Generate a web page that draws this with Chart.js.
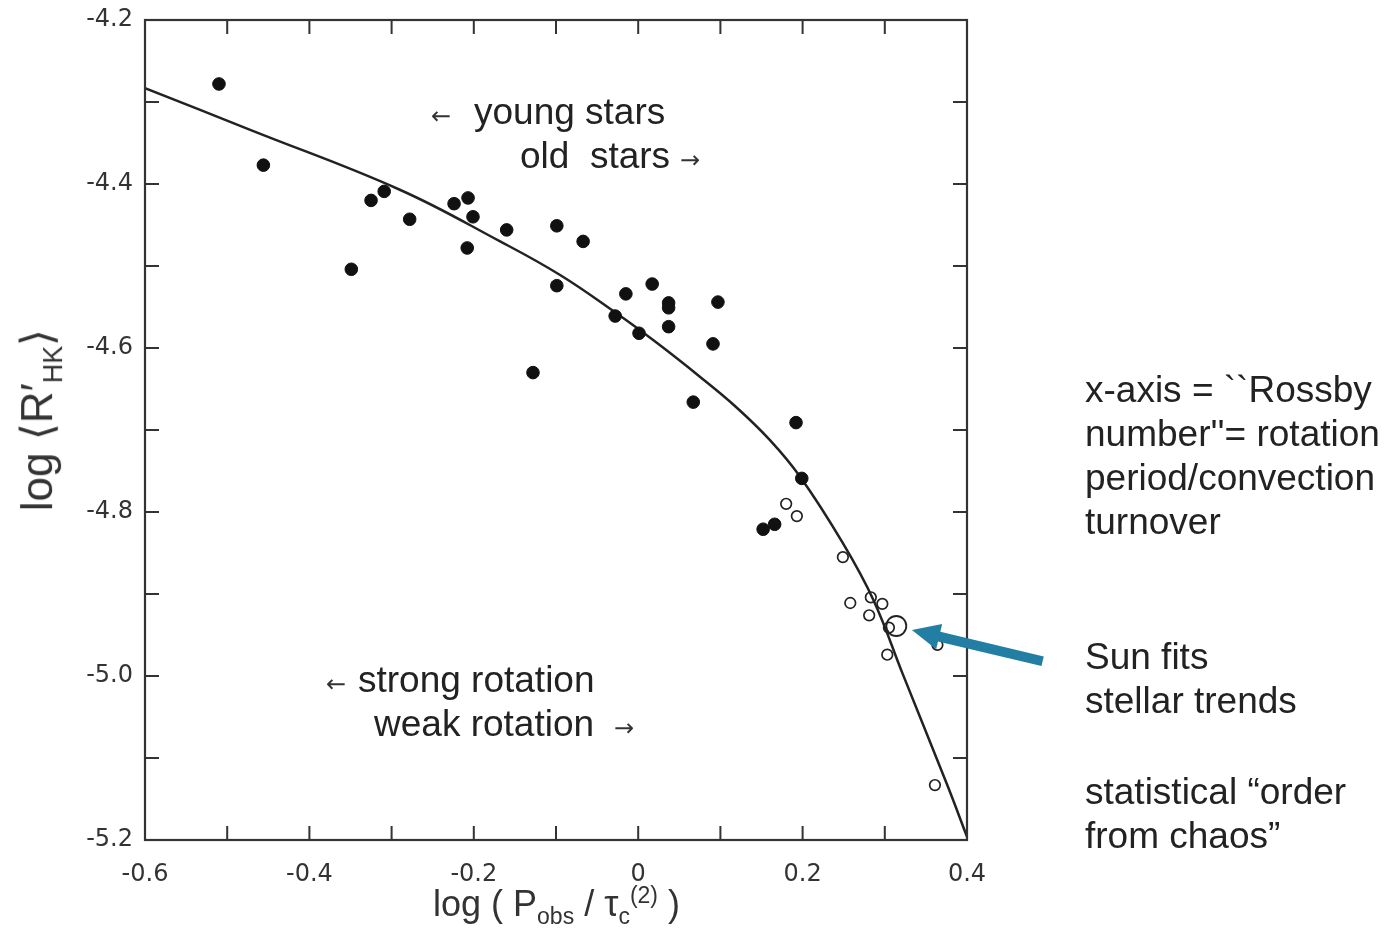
<!DOCTYPE html>
<html>
<head>
<meta charset="utf-8">
<script src="https://cdn.jsdelivr.net/npm/chart.js@4.4.1/dist/chart.umd.min.js"></script>
<style>
  html, body { margin: 0; padding: 0; background: #ffffff; }
  #wrap { position: relative; width: 1395px; height: 930px; overflow: hidden; }
  #wrap canvas { position: absolute; left: 0; top: 0; }
  .t { position: absolute; font-family: "Liberation Sans", Arial, sans-serif; color: #222; font-size: 37px; line-height: 44px; white-space: nowrap; }
  .ar { position: absolute; font-family: "DejaVu Sans", sans-serif; color: #333; font-size: 24px; line-height: 24px; white-space: nowrap; }
  .ax { position: absolute; font-family: "Liberation Sans", Arial, sans-serif; color: #333; white-space: nowrap; }
  #xtitle { font-size: 36px; }
  #xtitle sub, #xtitle sup { font-size: 23px; }
  #ytitle { font-size: 44px; }
  #ytitle sub { font-size: 27px; }
</style>
</head>
<body>
<div id="wrap">
  <canvas id="c" width="1395" height="930"></canvas>

  <div class="ar" style="left:431px; top:104px;">←</div>
  <div class="t" style="left:474px; top:90px;">young stars</div>
  <div class="t" style="left:520px; top:134px;">old&nbsp; stars</div>
  <div class="ar" style="left:680px; top:148px;">→</div>
  <div class="ar" style="left:326px; top:672px;">←</div>
  <div class="t" style="left:358px; top:658px;">strong rotation</div>
  <div class="t" style="left:374px; top:702px;">weak rotation</div>
  <div class="ar" style="left:614px; top:716px;">→</div>

  <div class="t" style="left:1085px; top:368px;">x-axis = ``Rossby<br>number''= rotation<br>period/convection<br>turnover</div>
  <div class="t" style="left:1085px; top:635px;">Sun fits<br>stellar trends</div>
  <div class="t" style="left:1085px; top:770px;">statistical “order<br>from chaos”</div>

  <div class="ax" id="xtitle" style="left:433px; top:882px;">log ( P<sub>obs</sub> / τ<sub>c</sub><sup>(2)</sup> )</div>
  <div class="ax" id="ytitle" style="left:40px; top:420px; transform: translate(-50%,-50%) rotate(-90deg);">log ⟨R′<sub>HK</sub>⟩</div>
</div>
<script>
// ---- data ----
const filledX = [-0.510,-0.456,-0.349,-0.325,-0.309,-0.278,-0.224,-0.207,-0.201,-0.208,-0.160,-0.128,-0.099,-0.067,-0.099,-0.028,-0.015,0.001,0.017,0.037,0.037,0.037,0.097,0.091,0.067,0.192,0.199,0.152,0.166];
const filledY = [-4.278,-4.377,-4.504,-4.420,-4.409,-4.443,-4.424,-4.417,-4.440,-4.478,-4.456,-4.630,-4.451,-4.470,-4.524,-4.561,-4.534,-4.582,-4.522,-4.545,-4.551,-4.574,-4.544,-4.595,-4.666,-4.691,-4.759,-4.821,-4.815];

const openX = [0.180,0.193,0.249,0.258,0.283,0.297,0.281,0.305,0.303,0.364,0.361];
const openY = [-4.790,-4.805,-4.855,-4.911,-4.904,-4.912,-4.926,-4.941,-4.974,-4.962,-5.133];

const sunX = [0.314];
const sunY = [-4.939];

const curveX = [-0.600,-0.472,-0.290,-0.168,-0.095,-0.026,0.023,0.075,0.118,0.160,0.197,0.249,0.286,0.322,0.376,0.400];
const curveY = [-4.283,-4.334,-4.407,-4.470,-4.511,-4.558,-4.594,-4.635,-4.671,-4.712,-4.757,-4.838,-4.907,-4.998,-5.133,-5.196];

const xTickValues = [-0.6,-0.5,-0.4,-0.3,-0.2,-0.1,0,0.1,0.2,0.3,0.4];
const yTickValues = [-5.2,-5.1,-5.0,-4.9,-4.8,-4.7,-4.6,-4.5,-4.4,-4.3,-4.2];

// annotation arrow (data coords): tip and tail
const arrowTip = {x: 0.333, y: -4.944};
const arrowTail = {x: 0.492, y: -4.982};

const zip = (xs, ys) => xs.map((x, i) => ({x: x, y: ys[i]}));

const frameTicks = {
  id: 'frameTicks',
  afterDraw(chart) {
    const ctx = chart.ctx;
    const a = chart.chartArea;
    const xs = chart.scales.x, ys = chart.scales.y;
    ctx.save();
    ctx.strokeStyle = '#333';
    ctx.lineWidth = 2.2;
    ctx.strokeRect(a.left, a.top, a.right - a.left, a.bottom - a.top);
    const L = 14;
    ctx.lineWidth = 2;
    ctx.beginPath();
    xTickValues.forEach(v => {
      const p = xs.getPixelForValue(v);
      ctx.moveTo(p, a.bottom); ctx.lineTo(p, a.bottom - L);
      ctx.moveTo(p, a.top); ctx.lineTo(p, a.top + L);
    });
    yTickValues.forEach(v => {
      const p = ys.getPixelForValue(v);
      ctx.moveTo(a.left, p); ctx.lineTo(a.left + L, p);
      ctx.moveTo(a.right, p); ctx.lineTo(a.right - L, p);
    });
    ctx.stroke();

    // blue arrow
    const tx = xs.getPixelForValue(arrowTip.x), ty = ys.getPixelForValue(arrowTip.y);
    const sx = xs.getPixelForValue(arrowTail.x), sy = ys.getPixelForValue(arrowTail.y);
    const dx = tx - sx, dy = ty - sy, len = Math.hypot(dx, dy);
    const ux = dx / len, uy = dy / len, nx = -uy, ny = ux;
    const headL = 28, headW = 13, shaftW = 5;
    const bx = tx - ux * headL, by = ty - uy * headL;
    ctx.fillStyle = '#237ea3';
    ctx.beginPath();
    ctx.moveTo(sx + nx * shaftW, sy + ny * shaftW);
    ctx.lineTo(bx + nx * shaftW, by + ny * shaftW);
    ctx.lineTo(bx + nx * headW, by + ny * headW);
    ctx.lineTo(tx, ty);
    ctx.lineTo(bx - nx * headW, by - ny * headW);
    ctx.lineTo(bx - nx * shaftW, by - ny * shaftW);
    ctx.lineTo(sx - nx * shaftW, sy - ny * shaftW);
    ctx.closePath();
    ctx.fill();
    ctx.restore();
  }
};

new Chart(document.getElementById('c'), {
  type: 'scatter',
  data: {
    datasets: [
      {
        label: 'fit',
        type: 'line',
        data: zip(curveX, curveY),
        borderColor: '#222',
        borderWidth: 2.5,
        pointRadius: 0,
        fill: false,
        tension: 0.4,
        order: 3
      },
      {
        label: 'stars',
        data: zip(filledX, filledY),
        pointRadius: 6.3,
        backgroundColor: '#111',
        borderColor: '#111',
        borderWidth: 1,
        order: 2
      },
      {
        label: 'open',
        data: zip(openX, openY),
        pointRadius: 5.3,
        backgroundColor: 'rgba(255,255,255,0)',
        borderColor: '#222',
        borderWidth: 1.7,
        order: 1
      },
      {
        label: 'Sun',
        data: zip(sunX, sunY),
        pointRadius: 10,
        backgroundColor: 'rgba(255,255,255,0)',
        borderColor: '#222',
        borderWidth: 1.8,
        order: 0
      }
    ]
  },
  options: {
    responsive: false,
    animation: false,
    events: [],
    layout: { padding: { top: 20, right: 428, left: 0, bottom: 0 } },
    plugins: { legend: { display: false }, tooltip: { enabled: false } },
    scales: {
      x: {
        type: 'linear',
        min: -0.6, max: 0.4,
        afterFit(s) { s.height = 90; s.paddingLeft = 0; s.paddingRight = 0; },
        afterBuildTicks(s) { s.ticks = xTickValues.map(v => ({value: v})); },
        grid: { display: false, drawTicks: false },
        border: { display: false },
        ticks: {
          padding: 20,
          color: '#333',
          font: { family: 'DejaVu Sans', size: 24 },
          callback(v) {
            const k = Math.round(v * 10);
            if (k % 2 !== 0) return '';
            return k === 0 ? '0' : (k / 10).toFixed(1);
          }
        }
      },
      y: {
        type: 'linear',
        min: -5.2, max: -4.2,
        afterFit(s) { s.width = 145; s.paddingTop = 0; s.paddingBottom = 0; },
        afterBuildTicks(s) { s.ticks = yTickValues.map(v => ({value: v})); },
        grid: { display: false, drawTicks: false },
        border: { display: false },
        ticks: {
          padding: 12,
          color: '#333',
          font: { family: 'DejaVu Sans', size: 24 },
          callback(v) {
            const k = Math.round(v * 10);
            if (k % 2 !== 0) return '';
            return '-' + (Math.abs(k) / 10).toFixed(1);
          }
        }
      }
    }
  },
  plugins: [frameTicks]
});
</script>
</body>
</html>
